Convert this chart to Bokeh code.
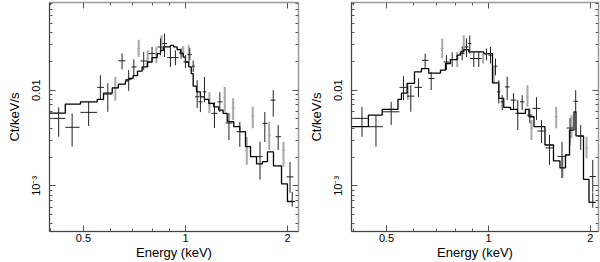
import numpy as np
from bokeh.plotting import figure
from bokeh.models import FixedTicker, CustomJSTickFormatter, LogAxis, Range1d
from bokeh.layouts import row
from bokeh.embed import file_html
from bokeh.resources import INLINE

# ---------------- data (keV, Ct/keV/s) ----------------
# left panel model (step histogram): bin edges and values
ml_edges = [0.397, 0.442, 0.490, 0.549, 0.573, 0.608, 0.634, 0.665, 0.679, 0.701, 0.722,
            0.745, 0.772, 0.797, 0.825, 0.844, 0.861, 0.903, 0.923, 0.945, 0.967, 0.985,
            1.000, 1.023, 1.040, 1.054, 1.078, 1.107, 1.138, 1.172, 1.212, 1.254, 1.292,
            1.328, 1.389, 1.447, 1.504, 1.556, 1.621, 1.688, 1.746, 1.819, 1.921, 2.000, 2.084]
ml_vals = [0.00576, 0.00715, 0.00755, 0.0080, 0.0093, 0.01057, 0.01155, 0.0125, 0.0133,
           0.0142, 0.0158, 0.0175, 0.0197, 0.0219, 0.0241, 0.0261, 0.0283, 0.0294, 0.0283,
           0.0265, 0.0241, 0.0222, 0.0197, 0.0175, 0.0149, 0.0110, 0.0096, 0.00852, 0.0080,
           0.00727, 0.0067, 0.00619, 0.00572, 0.00468, 0.00415, 0.00368, 0.00257, 0.00202,
           0.0017, 0.00179, 0.00226, 0.00162, 0.00105, 0.000686]

# left panel, black data: energy, bin low, bin high, rate, rate low, rate high
lb_e  = [0.4225, 0.463, 0.518, 0.561, 0.590, 0.650, 0.680, 0.704, 0.753, 0.797, 0.844,
         0.867, 0.903, 0.934, 0.971, 1.000, 1.030, 1.054, 1.083, 1.107, 1.138, 1.218,
         1.263, 1.344, 1.447, 1.660, 1.715, 1.816, 1.878, 2.035, 2.066]
lb_el = [0.397, 0.442, 0.490, 0.549, 0.575, 0.634, 0.665, 0.693, 0.736, 0.778, 0.827,
         0.855, 0.883, 0.915, 0.957, 0.986, 1.014, 1.042, 1.067, 1.092, 1.123, 1.193,
         1.243, 1.313, 1.415, 1.610, 1.688, 1.782, 1.844, 1.987, 2.028]
lb_eh = [0.442, 0.487, 0.549, 0.575, 0.608, 0.665, 0.693, 0.717, 0.770, 0.815, 0.855,
         0.882, 0.923, 0.954, 0.986, 1.014, 1.045, 1.067, 1.100, 1.123, 1.153, 1.243,
         1.286, 1.377, 1.483, 1.688, 1.746, 1.844, 1.914, 2.084, 2.106]
lb_v  = [0.00507, 0.00409, 0.00586, 0.0107, 0.00909, 0.0203, 0.0129, 0.0175, 0.0202,
         0.0241, 0.0283, 0.0307, 0.0219, 0.0219, 0.0245, 0.0197, 0.0235, 0.0178, 0.00852,
         0.00755, 0.0096, 0.00572, 0.00755, 0.00453, 0.00368, 0.00202, 0.0045, 0.00787,
         0.00326, 0.00124, 0.000686]
lb_lo = [0.00326, 0.00257, 0.00422, 0.00787, 0.00594, 0.0165, 0.00983, 0.0143, 0.0162,
         0.0197, 0.0232, 0.0222, 0.0175, 0.0182, 0.0213, 0.0170, 0.0205, 0.0154, 0.00649,
         0.0059, 0.0075, 0.00402, 0.0059, 0.00301, 0.00255, 0.00116, 0.00287, 0.00527,
         0.00237, 0.000845, 0.000604]
lb_hi = [0.0066, 0.00572, 0.00755, 0.0143, 0.0118, 0.0243, 0.0162, 0.0210, 0.0251,
         0.0283, 0.0348, 0.0392, 0.0283, 0.0261, 0.0274, 0.0232, 0.0274, 0.0205, 0.0127,
         0.00953, 0.0137, 0.0075, 0.00953, 0.00576, 0.00464, 0.00289, 0.0059, 0.0100,
         0.00432, 0.00178, 0.000866]

# left panel, grey data
lg_e  = [0.621, 0.728, 0.774, 0.821, 0.850, 0.985, 1.023, 1.177, 1.306, 1.383, 1.517,
         1.580, 1.767, 1.947]
lg_el = [0.612, 0.720, 0.766, 0.812, 0.843, 0.978, 1.015, 1.165, 1.292, 1.368, 1.500,
         1.562, 1.746, 1.921]
lg_eh = [0.630, 0.736, 0.782, 0.830, 0.857, 0.992, 1.031, 1.190, 1.320, 1.398, 1.534,
         1.598, 1.788, 1.973]
lg_v  = [0.0104, 0.0274, 0.0215, 0.0232, 0.0309, 0.0249, 0.0243, 0.00698, 0.00835,
         0.00645, 0.00237, 0.00536, 0.0034, 0.00237]
lg_lo = [0.00774, 0.0222, 0.0175, 0.0191, 0.0251, 0.0226, 0.0196, 0.00576, 0.00594,
         0.00487, 0.00166, 0.00399, 0.00237, 0.00158]
lg_hi = [0.0138, 0.0337, 0.0261, 0.0281, 0.0374, 0.0287, 0.0294, 0.00953, 0.0108,
         0.00825, 0.00324, 0.0067, 0.00464, 0.00287]

# right panel model
mr_edges = [0.394, 0.442, 0.4854, 0.5404, 0.5534, 0.5753, 0.6046, 0.634, 0.6663, 0.7215,
            0.7465, 0.7723, 0.8083, 0.8266, 0.8454, 0.8746, 0.9685, 1.0276, 1.0725, 1.1096,
            1.1614, 1.218, 1.286, 1.317, 1.3626, 1.4685, 1.5558, 1.626, 1.688, 1.735,
            1.7886, 1.813, 1.908, 1.981, 2.056]
mr_vals = [0.00415, 0.00549, 0.0063, 0.0080, 0.0093, 0.0118, 0.0155, 0.0168, 0.0151,
           0.0162, 0.0190, 0.0209, 0.0232, 0.0251, 0.0265, 0.0251, 0.0241, 0.0119, 0.0082,
           0.0066, 0.0063, 0.00572, 0.0063, 0.00527, 0.00415, 0.00267, 0.00182, 0.00154,
           0.0021, 0.00383, 0.00594, 0.00332, 0.00117, 0.00067]

# right panel, black data
rb_e  = [0.4231, 0.4653, 0.516, 0.561, 0.5896, 0.6213, 0.6502, 0.6773, 0.7516, 0.7813,
         0.8363, 0.861, 0.8806, 0.9049, 0.9361, 0.9865, 1.0137, 1.0488, 1.0725, 1.0976,
         1.1356, 1.1853, 1.2204, 1.2576, 1.3242, 1.386, 1.4339, 1.514, 1.6484, 1.7406,
         1.8094, 1.872, 2.0324, 2.0324]
rb_el = [0.394, 0.4422, 0.488, 0.546, 0.5745, 0.6046, 0.6362, 0.665, 0.7364, 0.767,
         0.821, 0.8494, 0.8699, 0.8818, 0.9216, 0.973, 1.0, 1.0346, 1.0596, 1.0851,
         1.1186, 1.1614, 1.2014, 1.2389, 1.2993, 1.3488, 1.3954, 1.4734, 1.5987, 1.6996,
         1.7825, 1.8379, 1.9873, 1.9873]
rb_eh = [0.4422, 0.488, 0.546, 0.5745, 0.6046, 0.6362, 0.665, 0.6927, 0.767, 0.7963,
         0.8494, 0.8729, 0.8908, 0.9279, 0.9535, 1.0, 1.0276, 1.0631, 1.0851, 1.111,
         1.1535, 1.2096, 1.2431, 1.2774, 1.3488, 1.4242, 1.4734, 1.5558, 1.6996, 1.7764,
         1.8379, 1.9078, 2.077, 2.077]
rb_v  = [0.00507, 0.00415, 0.00594, 0.0107, 0.00866, 0.0107, 0.0205, 0.01324, 0.0197,
         0.0209, 0.0241, 0.0283, 0.0307, 0.0214, 0.0214, 0.0241, 0.0232, 0.0178, 0.0096,
         0.00755, 0.0108, 0.00787, 0.00572, 0.00755, 0.00549, 0.00645, 0.00374, 0.00249,
         0.00203, 0.00402, 0.00764, 0.00329, 0.00125, 0.00067]
rb_lo = [0.00326, 0.00257, 0.00432, 0.00787, 0.00594, 0.00852, 0.0168, 0.0100, 0.0162,
         0.0175, 0.0205, 0.0222, 0.0241, 0.0175, 0.0175, 0.0205, 0.0190, 0.0143, 0.00727,
         0.00619, 0.00787, 0.00619, 0.00383, 0.00619, 0.0045, 0.00487, 0.0028, 0.00166,
         0.00121, 0.00267, 0.00572, 0.00237, 0.000866, 0.00059]
rb_hi = [0.0067, 0.00549, 0.00755, 0.0140, 0.01127, 0.0133, 0.0241, 0.0155, 0.0232,
         0.0249, 0.0287, 0.0348, 0.0374, 0.0251, 0.0251, 0.0272, 0.0283, 0.0214, 0.0127,
         0.00887, 0.0138, 0.0093, 0.00787, 0.00887, 0.00645, 0.00846, 0.00487, 0.0034,
         0.00289, 0.00511, 0.0100, 0.00432, 0.00187, 0.000852]

# right panel, grey data
rg_e  = [0.5777, 0.730, 0.8083, 0.8454, 0.9646, 1.0367, 1.3037, 1.3396, 1.5847, 1.654,
         1.7584, 1.9472]
rg_el = [0.570, 0.722, 0.800, 0.838, 0.956, 1.028, 1.290, 1.325, 1.566, 1.635, 1.740, 1.925]
rg_eh = [0.585, 0.738, 0.816, 0.852, 0.973, 1.045, 1.317, 1.354, 1.603, 1.673, 1.777, 1.970]
rg_v  = [0.00953, 0.0272, 0.0215, 0.0309, 0.0215, 0.0143, 0.00866, 0.00402, 0.00527,
         0.00153, 0.00422, 0.00249]
rg_lo = [0.00787, 0.0214, 0.0175, 0.0251, 0.0190, 0.01174, 0.0067, 0.00301, 0.00399,
         0.0012, 0.00314, 0.00194]
rg_hi = [0.01155, 0.0346, 0.0251, 0.0374, 0.0241, 0.0175, 0.01127, 0.00487, 0.0067,
         0.00202, 0.00549, 0.00326]

# axes
x_major = [0.5, 1, 2]
x_major_labels = ["0.5", "1", "2"]
x_minor = [0.4, 0.6, 0.7, 0.8, 0.9]
y_major = [0.001, 0.01]
y_major_labels = ["10\u207b\u00b3", "0.01"]
y_minor = [m * d for d in (1e-4, 1e-3, 1e-2) for m in range(2, 10)]
y_range = (3.33e-4, 0.0825)
x_label = "Energy (keV)"
y_label = "Ct/keV/s"

FONT = "Liberation Sans"
TICK_COLOR = "#555555"
FIG_H = 262


def formatter(vals, labs):
    return CustomJSTickFormatter(args=dict(vals=vals, labs=labs), code="""
        for (let i = 0; i < vals.length; i++) {
            if (Math.abs(vals[i] - tick) <= 1e-6 * vals[i]) return labs[i];
        }
        return '';
    """)


def style_axis(ax, labels=True):
    ax.major_tick_in = 6
    ax.major_tick_out = 0
    ax.minor_tick_in = 3
    ax.minor_tick_out = 0
    ax.major_tick_line_color = TICK_COLOR
    ax.minor_tick_line_color = TICK_COLOR
    ax.axis_line_color = "#444444"
    if labels:
        ax.major_label_text_font = FONT
        ax.major_label_text_font_size = "11px"
        ax.major_label_text_color = "black"
        ax.axis_label_text_font = FONT
        ax.axis_label_text_font_size = "13px"
        ax.axis_label_text_font_style = "normal"
        ax.axis_label_text_color = "black"
    else:
        # tick-only mirror axis drawn on the frame edge
        ax.formatter = CustomJSTickFormatter(code="return '';")
        ax.major_label_text_font_size = "1px"
        ax.major_label_standoff = 0
        ax.axis_line_color = None


def panel(width, xr, bl, br, model_edges, model_vals, b, g):
    p = figure(width=width, height=FIG_H, x_axis_type="log", y_axis_type="log",
               x_range=Range1d(*xr), y_range=Range1d(*y_range),
               output_backend="svg", toolbar_location=None,
               min_border_left=bl, min_border_right=br,
               min_border_top=2, min_border_bottom=30)
    p.grid.visible = False
    p.outline_line_color = "#999999"
    p.outline_line_width = 1.5
    p.background_fill_color = "white"
    p.border_fill_color = "white"

    xa = p.xaxis[0]
    xa.ticker = FixedTicker(ticks=x_major, minor_ticks=x_minor)
    xa.formatter = formatter(x_major, x_major_labels)
    xa.axis_label = x_label
    style_axis(xa)
    xa.major_label_standoff = 2
    xa.axis_label_standoff = 0

    ya = p.yaxis[0]
    ya.ticker = FixedTicker(ticks=y_major, minor_ticks=y_minor)
    ya.formatter = formatter(y_major, y_major_labels)
    ya.axis_label = y_label
    ya.major_label_orientation = "vertical"
    style_axis(ya)
    ya.major_label_standoff = 7
    ya.axis_label_standoff = 6

    top = LogAxis(ticker=FixedTicker(ticks=x_major, minor_ticks=x_minor),
                  fixed_location=y_range[1])
    style_axis(top, labels=False)
    p.add_layout(top, "above")
    right = LogAxis(ticker=FixedTicker(ticks=y_major, minor_ticks=y_minor),
                    fixed_location=xr[1])
    style_axis(right, labels=False)
    p.add_layout(right, "right")

    # grey data
    ge, gel, geh, gv, glo, ghi = g
    p.segment(x0=gel, y0=gv, x1=geh, y1=gv, line_color="#b0b0b0", line_width=1)
    p.segment(x0=ge, y0=glo, x1=ge, y1=ghi, line_color="#a8a8a8", line_width=2)

    # model step
    xs = np.repeat(np.array(model_edges), 2)[1:-1]
    ys = np.repeat(np.array(model_vals), 2)
    p.line(xs, ys, line_color="black", line_width=1.3)

    # black data
    be, bel, beh, bv, blo, bhi = b
    p.segment(x0=bel, y0=bv, x1=beh, y1=bv, line_color="#222222", line_width=1)
    p.segment(x0=be, y0=blo, x1=be, y1=bhi, line_color="#222222", line_width=1)
    return p


p1 = panel(300, (0.397, 2.156), 49, 2, ml_edges, ml_vals,
           (lb_e, lb_el, lb_eh, lb_v, lb_lo, lb_hi),
           (lg_e, lg_el, lg_eh, lg_v, lg_lo, lg_hi))
p2 = panel(300, (0.394, 2.113), 51, 2, mr_edges, mr_vals,
           (rb_e, rb_el, rb_eh, rb_v, rb_lo, rb_hi),
           (rg_e, rg_el, rg_eh, rg_v, rg_lo, rg_hi))

layout = row(p1, p2)
open("out.html", "w").write(file_html(layout, INLINE))
